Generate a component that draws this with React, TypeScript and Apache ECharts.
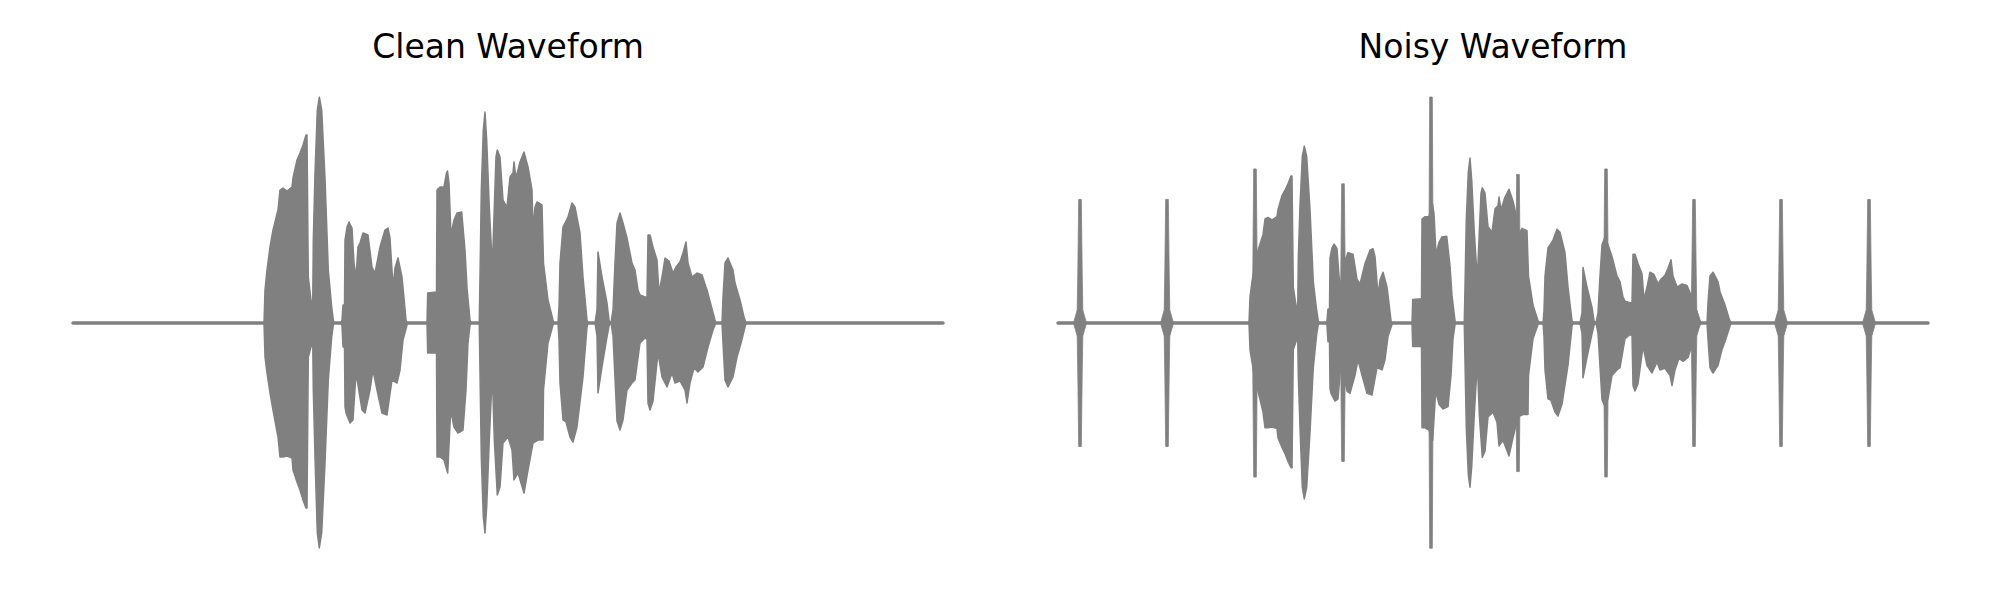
import React, { useEffect, useRef } from "react";
import * as echarts from "echarts";

// x = frame index (0..870), y = amplitude
const FRAMES = 870;

const cleanUpper: [number, number][] = [
  [191, 0], [192, 0.033], [194, 0.053], [197, 0.076], [200, 0.093], [205, 0.113], [207, 0.133], [210, 0.135],
  [214, 0.132], [219, 0.136], [220, 0.145], [224, 0.163], [227, 0.17], [230, 0.178], [233, 0.188], [234, 0.188],
  [235.3, 0.046], [238, 0.023],
  [239.7, 0.016], [240.3, 0.083], [242, 0.15], [244.3, 0.213], [246.3, 0.226], [248.7, 0.213], [252, 0.145],
  [255.3, 0.053], [258.7, 0.016], [260.3, 0.003], [261, 0],
  [268, 0], [269, 0.003], [270, 0.018], [271.5, 0.018], [272, 0.083], [274, 0.096], [276, 0.101], [279, 0.095],
  [281, 0.06], [283, 0.046], [285, 0.076], [287, 0.08], [290, 0.09], [295, 0.088], [299, 0.056], [302, 0.05],
  [307, 0.076], [312, 0.093], [315, 0.095], [317, 0.085], [320, 0.036], [322, 0.055], [325, 0.065], [329, 0.046],
  [331, 0.025], [333, 0.003], [334, 0],
  [354, 0], [354.7, 0.03], [363.5, 0.031], [364, 0.133], [367, 0.136], [371, 0.136], [373.5, 0.15], [374.5, 0.152],
  [376, 0.14], [378, 0.088], [381, 0.103], [384, 0.11], [388.7, 0.111], [392, 0.073], [394, 0.035], [397, 0.003], [398, 0],
  [406, 0], [406.3, 0.003], [407, 0.046], [408.3, 0.133], [410.3, 0.193], [412, 0.211], [413.7, 0.183], [416.3, 0.116],
  [419.3, 0.056], [421.3, 0.116], [423, 0.166], [424.3, 0.173], [427, 0.166], [430, 0.123], [434, 0.116], [437, 0.146],
  [440, 0.15], [441, 0.161], [443, 0.145], [447, 0.161], [451, 0.171], [455, 0.156], [459, 0.133], [460, 0.093],
  [462, 0.116], [464, 0.121], [469, 0.118], [470.5, 0.06], [475, 0.023], [480, 0.003], [481, 0],
  [485, 0], [486, 0.016], [487, 0.06], [490, 0.096], [492, 0.1], [495, 0.106], [499, 0.12], [502, 0.116], [507, 0.09],
  [510, 0.046], [514, 0.003], [515, 0],
  [522, 0], [524, 0.013], [525, 0.071], [529, 0.046], [534, 0.02], [536, 0.003], [537, 0],
  [538, 0], [540, 0.013], [542, 0.06], [544, 0.1], [547, 0.11], [550, 0.1], [554, 0.085], [559, 0.06], [562, 0.053],
  [565, 0.033], [567, 0.028], [572, 0.026], [574, 0.026], [575, 0.088], [577, 0.088], [580, 0.076], [584, 0.063],
  [586, 0.03], [589, 0.046], [592, 0.065], [596, 0.062], [600, 0.05], [603, 0.056], [607, 0.061], [610, 0.07],
  [613, 0.081], [615, 0.06], [619, 0.046], [624, 0.05], [629, 0.048], [634, 0.033], [639, 0.014], [642, 0.003], [643, 0],
  [649, 0], [650, 0.026], [652, 0.06], [655, 0.065], [660, 0.053], [662, 0.04], [667, 0.023], [671, 0.006], [673, 0],
];

const cleanLower: [number, number][] = [
  [191, 0], [192, -0.034], [194, -0.05], [197, -0.07], [200, -0.087], [205, -0.114], [207, -0.134], [210, -0.134],
  [214, -0.133], [219, -0.135], [220, -0.147], [224, -0.159], [227, -0.167], [230, -0.177], [233, -0.185], [234, -0.185],
  [235.3, -0.034], [238, -0.024],
  [239.7, -0.017], [240.3, -0.067], [242, -0.134], [244.3, -0.21], [246.3, -0.225], [248.7, -0.21], [252, -0.14],
  [255.3, -0.057], [258.7, -0.014], [260.3, -0.002], [261, 0],
  [268, 0], [269, -0.003], [270, -0.024], [271.5, -0.024], [272, -0.084], [273, -0.09], [277, -0.1], [280, -0.097],
  [283, -0.05], [289, -0.087], [292, -0.09], [297, -0.067], [300, -0.047], [304, -0.067], [309, -0.09], [314, -0.092],
  [319, -0.057], [324, -0.06], [327, -0.047], [330, -0.017], [334, -0.002], [335, 0],
  [354, 0], [354.7, -0.03], [363.5, -0.03], [364, -0.134], [367, -0.134], [371, -0.137], [374.7, -0.15], [377.7, -0.087],
  [381, -0.104], [385, -0.11], [390, -0.107], [393, -0.067], [395, -0.02], [397, -0.002], [398, 0],
  [406, 0], [406.3, -0.003], [407, -0.05], [408.3, -0.134], [410.3, -0.194], [412, -0.21], [413.7, -0.184], [416.3, -0.117],
  [419.3, -0.05], [421.3, -0.117], [424.3, -0.172], [427, -0.164], [430, -0.12], [435, -0.114], [439, -0.127],
  [441, -0.157], [445, -0.15], [451, -0.17], [455, -0.147], [460, -0.12], [465, -0.117], [470, -0.117], [470.5, -0.067],
  [475, -0.02], [480, -0.002], [481, 0],
  [485, 0], [486, -0.017], [487, -0.06], [490, -0.097], [493, -0.099], [497, -0.114], [500, -0.119], [504, -0.104],
  [510, -0.054], [514, -0.004], [515, 0],
  [522, 0], [524, -0.013], [525, -0.07], [529, -0.044], [534, -0.014], [536, -0.003], [537, 0],
  [538, 0], [540, -0.013], [544, -0.098], [547, -0.107], [550, -0.097], [554, -0.067], [559, -0.06], [562, -0.057],
  [567, -0.02], [572, -0.015], [574, -0.016], [575, -0.08], [577, -0.087], [580, -0.078], [585, -0.03], [589, -0.054],
  [594, -0.064], [599, -0.05], [602, -0.06], [607, -0.058], [612, -0.067], [614, -0.08], [617, -0.06], [621, -0.045],
  [625, -0.049], [630, -0.044], [635, -0.024], [640, -0.007], [642, -0.002], [643, 0],
  [649, 0], [650, -0.02], [652, -0.057], [655, -0.064], [660, -0.054], [664, -0.034], [668, -0.02], [672, -0.004], [673, 0],
];

// periodic clicks added in the noisy version
const clickFrames = [22, 109, 197, 285, 373, 460, 548, 636, 723, 811];
const clickTop = [0.158, 0.158, 0.197, 0.178, 0.289, 0.19, 0.197, 0.158, 0.158, 0.158];
const clickBottom = [-0.158, -0.158, -0.197, -0.177, -0.288, -0.19, -0.197, -0.158, -0.158, -0.158];

const titles = ["Clean Waveform", "Noisy Waveform"];

const GRAY = "#808080";
const GRID_LEFT = [73, 1058];
const GRID_WIDTH = 870;
const GRID_TOP = 97;
const GRID_HEIGHT = 452;

function envelope(data: [number, number][], idx: number) {
  return {
    type: "line",
    xAxisIndex: idx,
    yAxisIndex: idx,
    data,
    symbol: "none",
    showSymbol: false,
    silent: true,
    z: 2,
    lineStyle: { color: GRAY, width: 1.5, join: "round" },
    itemStyle: { color: GRAY },
    areaStyle: { color: GRAY, opacity: 1, origin: 0 },
  };
}

function baseline(idx: number) {
  return {
    type: "line",
    xAxisIndex: idx,
    yAxisIndex: idx,
    data: [[0, 0], [FRAMES, 0]],
    symbol: "none",
    silent: true,
    z: 1,
    lineStyle: { color: GRAY, width: 3.5, cap: "round" },
  };
}

export default function App() {
  const ref = useRef<HTMLDivElement>(null);
  useEffect(() => {
    if (!ref.current) return;
    const chart = echarts.init(ref.current, undefined, { renderer: "svg" });
    const cleanMax = Math.max(
      ...cleanUpper.map((p) => Math.abs(p[1])),
      ...cleanLower.map((p) => Math.abs(p[1]))
    );
    const noisyMax = Math.max(cleanMax, ...clickTop, ...clickBottom.map((v) => Math.abs(v)));
    const maxes = [cleanMax, noisyMax];
    const clickData = clickFrames.map((f, i) => [f, clickTop[i], clickBottom[i]]);

    chart.setOption({
      animation: false,
      backgroundColor: "#ffffff",
      grid: GRID_LEFT.map((l) => ({ left: l, top: GRID_TOP, width: GRID_WIDTH, height: GRID_HEIGHT })),
      xAxis: [0, 1].map((i) => ({ gridIndex: i, type: "value", min: 0, max: FRAMES, show: false })),
      yAxis: [0, 1].map((i) => ({ gridIndex: i, type: "value", min: -maxes[i], max: maxes[i], show: false })),
      graphic: titles.map((t, i) => ({
        type: "text",
        x: GRID_LEFT[i] + GRID_WIDTH / 2,
        y: 46,
        style: {
          text: t,
          fontSize: 33,
          fontFamily: "DejaVu Sans",
          fill: "#000000",
          align: "center",
          verticalAlign: "middle",
          textAlign: "center",
          textVerticalAlign: "middle",
        },
      })),
      series: [
        baseline(0),
        envelope(cleanUpper, 0),
        envelope(cleanLower, 0),
        baseline(1),
        envelope(cleanUpper, 1),
        envelope(cleanLower, 1),
        {
          type: "custom",
          xAxisIndex: 1,
          yAxisIndex: 1,
          silent: true,
          z: 3,
          data: clickData,
          encode: { x: 0, y: [1, 2] },
          renderItem: (params: any, api: any) => {
            const f = api.value(0);
            const top = api.coord([f, api.value(1)]);
            const bot = api.coord([f, api.value(2)]);
            const mid = api.coord([f, 0]);
            const cx = mid[0];
            const cy = mid[1];
            const pts = [
              [cx - 1.3, top[1]], [cx + 1.3, top[1]],
              [cx + 2.2, cy - 50], [cx + 2.8, cy - 13], [cx + 6.5, cy], [cx + 2.8, cy + 13], [cx + 2.2, cy + 50],
              [cx + 1.3, bot[1]], [cx - 1.3, bot[1]],
              [cx - 2.2, cy + 50], [cx - 2.8, cy + 13], [cx - 6.5, cy], [cx - 2.8, cy - 13], [cx - 2.2, cy - 50],
            ];
            return {
              type: "polygon",
              shape: { points: pts },
              style: { fill: GRAY, stroke: GRAY, lineWidth: 0.8 },
            };
          },
        },
      ],
    });
    return () => chart.dispose();
  }, []);
  return (
    <div
      ref={ref}
      style={{ position: "fixed", left: 0, top: 0, width: 2000, height: 600, background: "#fff" }}
    />
  );
}
